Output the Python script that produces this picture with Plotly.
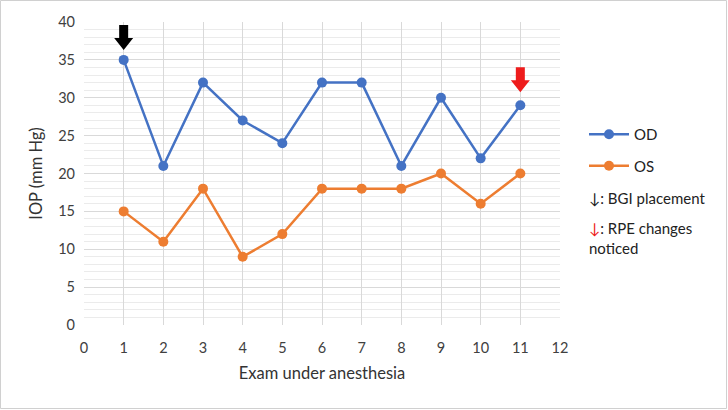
import plotly.graph_objects as go

exam = [1, 2, 3, 4, 5, 6, 7, 8, 9, 10, 11]
od = [35, 21, 32, 27, 24, 32, 32, 21, 30, 22, 29]
os_ = [15, 11, 18, 9, 12, 18, 18, 18, 20, 16, 20]

bgi_exam, bgi_val = 1, 35
rpe_exam, rpe_val = 11, 29

FONT = "Lato"
W, H = 728, 410
ML, MR, MT, MB = 84, 168, 22, 85
PW, PH = W - ML - MR, H - MT - MB

fig = go.Figure()
fig.add_trace(go.Scatter(x=exam, y=od, name="OD", mode="lines+markers", legendgroup="od",
                         line=dict(color="#4472C4", width=2.5),
                         marker=dict(size=10, color="#4472C4")))
fig.add_trace(go.Scatter(x=exam, y=os_, name="OS", mode="lines+markers", legendgroup="os",
                         line=dict(color="#ED7D31", width=2.5),
                         marker=dict(size=10, color="#ED7D31")))

def arrow(xv, yv, color, tip):
    path = (f"M -4.5,{tip+25} L 4.5,{tip+25} L 4.5,{tip+12} L 9.5,{tip+12} "
            f"L 0,{tip} L -9.5,{tip+12} L -4.5,{tip+12} Z")
    fig.add_shape(type="path", xref="x", yref="y", xsizemode="pixel", ysizemode="pixel",
                  xanchor=xv, yanchor=yv, path=path, fillcolor=color, line=dict(width=0))

arrow(bgi_exam, bgi_val, "black", 10)
arrow(rpe_exam, rpe_val, "#EE1C1C", 13)

fig.add_shape(type="rect", xref="paper", yref="paper",
              x0=-ML / PW + 0.5 / PW, x1=1 + (MR - 1.5) / PW,
              y0=-MB / PH + 1.5 / PH, y1=1 + (MT - 0.5) / PH,
              line=dict(color="#D0D0D0", width=1), fillcolor="rgba(0,0,0,0)", layer="below")

fig.add_annotation(xref="paper", yref="paper", x=(587 - ML) / PW, y=(H - MB - 198) / PH,
                   text="↓: BGI placement", showarrow=False, xanchor="left", yanchor="middle",
                   font=dict(size=15, color="#222", family=FONT))
fig.add_annotation(xref="paper", yref="paper", x=(587 - ML) / PW, y=(H - MB - 217) / PH,
                   text="<span style='color:#EE1C1C'>↓</span>: RPE changes<br>noticed",
                   showarrow=False, xanchor="left", yanchor="top", align="left",
                   font=dict(size=15, color="#222", family=FONT))

fig.update_layout(
    width=W, height=H, margin=dict(l=ML, r=MR, t=MT, b=MB),
    paper_bgcolor="white", plot_bgcolor="white",
    font=dict(family=FONT, size=14, color="#333"),
    legend=dict(x=(584 - ML) / PW, y=(H - MB - 118) / PH, xanchor="left", yanchor="top",
                font=dict(size=15, color="#222", family=FONT), itemwidth=40,
                bgcolor="rgba(0,0,0,0)", tracegroupgap=9),
    xaxis=dict(range=[0, 12], dtick=1, tick0=0, showgrid=True, gridcolor="#D9D9D9",
               gridwidth=1, zeroline=False, showline=False, ticks="", ticklabelstandoff=12,
               title=dict(text="Exam under anesthesia", standoff=12, font=dict(size=16.5)),
               tickfont=dict(size=14.5, color="#404040"), fixedrange=True),
    yaxis=dict(range=[0, 40], dtick=5, tick0=0, showgrid=True, gridcolor="#D9D9D9",
               gridwidth=1, zeroline=False, showline=False, ticks="", ticklabelstandoff=8,
               minor=dict(dtick=1, showgrid=True, gridcolor="#EBEBEB", gridwidth=1),
               title=dict(text="IOP (mm Hg)", standoff=11, font=dict(size=16.5)),
               tickfont=dict(size=14.5, color="#404040"), fixedrange=True),
)

fig.write_html("out.html", config={"displayModeBar": False},
               post_script="document.body.style.margin='0';document.body.style.overflow='hidden';")
